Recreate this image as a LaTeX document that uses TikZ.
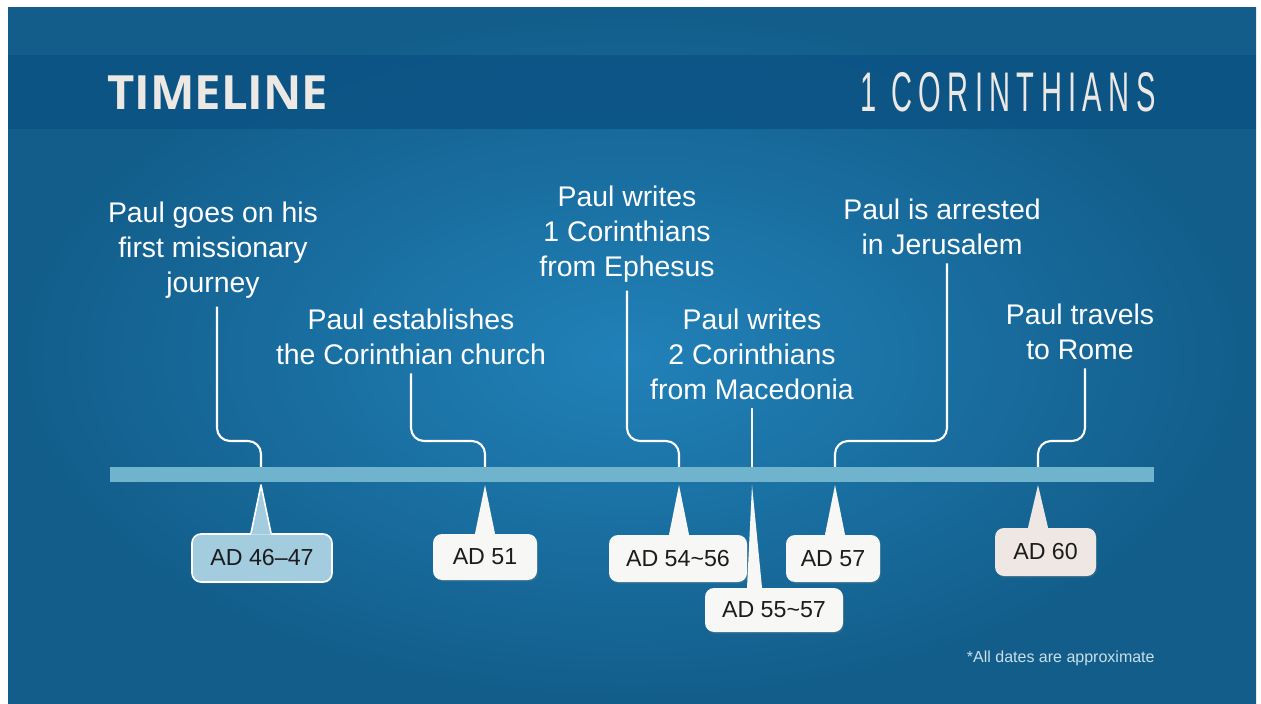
\documentclass[tikz,border=0pt]{standalone}
\usepackage{fontspec}
\setmainfont{Liberation Sans}
\newfontfamily\titlefont{Open Sans}
\newfontfamily\condfont[LetterSpace=22]{Liberation Sans}
\usetikzlibrary{calc,shadows}
\definecolor{bgin}{HTML}{2181B8}
\definecolor{bgout}{HTML}{125D8A}
\definecolor{bandc}{HTML}{0B5384}
\definecolor{barc}{HTML}{6FB3CD}
\definecolor{bubw}{HTML}{F7F7F5}
\definecolor{bubb}{HTML}{A3CCDF}
\definecolor{bubp}{HTML}{EEE7E4}
\definecolor{titlec}{HTML}{ECE8E4}
\definecolor{notec}{HTML}{C9DFEA}
\definecolor{bubtext}{HTML}{1C1C1C}
\begin{document}
\begin{tikzpicture}[x=0.5pt,y=-0.5pt,
  evtext/.style={text=white, font=\fontsize{14.2}{17.5}\selectfont, align=center, inner sep=0pt},
  conn/.style={draw=white, line width=1.05pt, rounded corners=6.5pt},
  bub/.style={fill=bubw, rounded corners=4.5pt, text=bubtext, font=\fontsize{11.6}{13}\selectfont,
    inner sep=0pt, drop shadow={shadow xshift=0.6pt, shadow yshift=-0.8pt, opacity=0.25}},
  ptr/.style={fill=bubw}]
\useasboundingbox (0,0) rectangle (1261,704);
\fill[white] (0,0) rectangle (1261,704);
\shade[inner color=bgin, outer color=bgout] (8,8) rectangle (1256,704);
\fill[bandc, opacity=0.85] (8,55) rectangle (1256,129);

\node[anchor=west, inner sep=0pt, text=titlec, font=\titlefont\bfseries\fontsize{23.6}{26}\selectfont] (title) at (107,92.5) {TIMELINE};
\node[anchor=east, inner sep=0pt, text=titlec] (book) at (1156,92.5) {\resizebox{147.5pt}{19.5pt}{\condfont 1 CORINTHIANS}};
\node[anchor=east, inner sep=0pt, text=notec, font=\fontsize{8}{9}\selectfont] (note) at (1155,658) {*All dates are approximate};

% timeline bar
\fill[barc] (110,467) rectangle (1154,482);
\coordinate (hy) at (0,441);
\coordinate (t1) at (261,467);
\coordinate (t2) at (485,467);
\coordinate (t3) at (679,467);
\coordinate (t4) at (752,467);
\coordinate (t5) at (835,467);
\coordinate (t6) at (1038,467);
\coordinate (p1) at (261,485);
\coordinate (p2) at (485,485);
\coordinate (p3) at (679,485);
\coordinate (p4) at (752,485);
\coordinate (p5) at (835,485);
\coordinate (p6) at (1038,485);

% event texts
\node[evtext] (L1) at (213,250) {Paul goes on his\\first missionary\\journey};
\node[evtext] (L2) at (411,337) {Paul establishes\\the Corinthian church};
\node[evtext] (L3) at (627,234) {Paul writes\\1 Corinthians\\from Ephesus};
\node[evtext] (L4) at (752,354) {Paul writes\\2 Corinthians\\from Macedonia};
\node[evtext] (L5) at (942,227) {Paul is arrested\\in Jerusalem};
\node[evtext] (L6) at (1080,332) {Paul travels\\to Rome};

% connectors
\draw[conn] ([xshift=2pt,yshift=-4pt]L1.south) |- (t1 |- hy) -- (t1);
\draw[conn] ([yshift=-4pt]L2.south) |- (t2 |- hy) -- (t2);
\draw[conn] ([yshift=-4pt]L3.south) |- (t3 |- hy) -- (t3);
\draw[conn] ([yshift=-4pt]L4.south) -- (t4);
\draw[conn] ([xshift=2.5pt,yshift=-4pt]L5.south) |- (t5 |- hy) -- (t5);
\draw[conn] ([xshift=2.5pt,yshift=-4pt]L6.south) |- (t6 |- hy) -- (t6);

% bubbles
\node[bub, fill=bubb, draw=white, line width=0.8pt, minimum width=70pt, minimum height=24pt] (B1) at (262,558) {AD 46--47};
\fill[bubb] ($(p1 |- B1.north)+(-10,1.5)$) -- ($(p1 |- B1.north)+(-10,0)$) -- (p1) -- ($(p1 |- B1.north)+(10,0)$) -- ($(p1 |- B1.north)+(10,1.5)$) -- cycle;
\draw[white, line width=0.8pt, line join=round] ($(p1 |- B1.north)+(-10,0)$) -- (p1) -- ($(p1 |- B1.north)+(10,0)$);

\node[bub, minimum width=52pt, minimum height=23pt] (B2) at (485,557) {AD 51};
\fill[ptr] ($(p2 |- B2.north)+(-10,2)$) -- ($(p2 |- B2.north)+(-10,0)$) -- (p2) -- ($(p2 |- B2.north)+(10,0)$) -- ($(p2 |- B2.north)+(10,2)$) -- cycle;

\node[bub, minimum width=69pt, minimum height=23.5pt] (B3) at (678,558.5) {AD 54\char`\~56};
\fill[ptr] ($(p3 |- B3.north)+(-10,2)$) -- ($(p3 |- B3.north)+(-10,0)$) -- (p3) -- ($(p3 |- B3.north)+(10,0)$) -- ($(p3 |- B3.north)+(10,2)$) -- cycle;

\node[bub, minimum width=69pt, minimum height=22pt] (B4) at (774,610) {AD 55\char`\~57};
\fill[ptr] ($(p4 |- B4.north)+(-5,2)$) -- ($(p4 |- B4.north)+(-5,0)$) -- (p4) -- ($(p4 |- B4.north)+(10,0)$) -- ($(p4 |- B4.north)+(10,2)$) -- cycle;

\node[bub, minimum width=47pt, minimum height=23.5pt] (B5) at (833,558.5) {AD 57};
\fill[ptr] ($(p5 |- B5.north)+(-10,2)$) -- ($(p5 |- B5.north)+(-10,0)$) -- (p5) -- ($(p5 |- B5.north)+(10,0)$) -- ($(p5 |- B5.north)+(10,2)$) -- cycle;

\node[bub, fill=bubp, minimum width=50.5pt, minimum height=24pt] (B6) at (1045.5,552) {AD 60};
\fill[bubp] ($(p6 |- B6.north)+(-10,2)$) -- ($(p6 |- B6.north)+(-10,0)$) -- (p6) -- ($(p6 |- B6.north)+(10,0)$) -- ($(p6 |- B6.north)+(10,2)$) -- cycle;
\end{tikzpicture}
\end{document}
